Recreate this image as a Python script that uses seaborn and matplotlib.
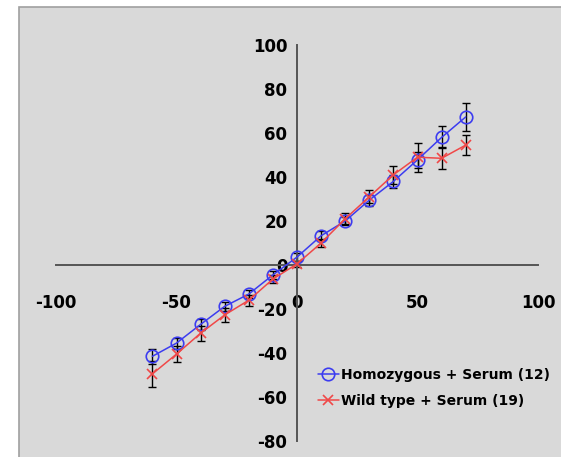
import pandas as pd
import seaborn as sns
import matplotlib.pyplot as plt
from matplotlib.patches import Rectangle

# Data
voltage = [-60, -50, -40, -30, -20, -10, 0, 10, 20, 30, 40, 50, 60, 70]
homo_mean = [-41.5, -35.5, -27, -18.8, -13.2, -4.5, 3.6, 13.3, 20, 29.5, 38, 47.8, 58, 67.3]
homo_err = [3.5, 2.5, 2.5, 2, 2, 2, 2, 2, 2, 2.5, 3, 3.5, 5, 6.5]
wild_mean = [-49.5, -40.5, -31, -22.7, -16, -6.4, 0.5, 10, 21, 31, 41, 49, 48.5, 54.5]
wild_err = [6, 3.5, 3.5, 3, 2.5, 2, 1.5, 2, 2.5, 3, 4, 6.5, 5, 4.5]
homo_label = 'Homozygous + Serum (12)'
wild_label = 'Wild type + Serum (19)'

df_homo = pd.DataFrame({'x': voltage, 'y': homo_mean})
df_wild = pd.DataFrame({'x': voltage, 'y': wild_mean})

blue = '#3c3cf0'
red = '#f04848'

sns.set_style('white')
plt.rcParams['font.family'] = ['DejaVu Sans']
plt.rcParams['font.weight'] = 'bold'
plt.rcParams['axes.unicode_minus'] = False
plt.rcParams['text.color'] = 'black'
plt.rcParams['xtick.labelcolor'] = 'black'
plt.rcParams['ytick.labelcolor'] = 'black'

fig = plt.figure(figsize=(5.61, 4.57), dpi=100)
fig.patch.set_facecolor('white')
# grey panel behind the chart
fig.patches.append(Rectangle((19 / 561, -0.01), 1.0, (457 - 7) / 457 + 0.01,
                             transform=fig.transFigure, facecolor='#d9d9d9',
                             edgecolor='#a0a0a0', linewidth=1.2, zorder=-10))

ax = fig.add_axes([56 / 561, 16 / 457, 482 / 561, 396 / 457])
ax.set_facecolor('none')

# error bars first, so markers sit on top
ax.errorbar(voltage, homo_mean, yerr=homo_err, fmt='none', ecolor='black',
            elinewidth=1, capsize=3, capthick=1, zorder=2)
ax.errorbar(voltage, wild_mean, yerr=wild_err, fmt='none', ecolor='black',
            elinewidth=1, capsize=3, capthick=1, zorder=2)

sns.lineplot(data=df_homo, x='x', y='y', ax=ax, color=blue, marker='o',
             markersize=9, markerfacecolor='none', markeredgecolor=blue,
             markeredgewidth=1.2, linewidth=1.1, label=homo_label, zorder=3)
sns.lineplot(data=df_wild, x='x', y='y', ax=ax, color=red, marker='x',
             markersize=7, markeredgecolor=red, markeredgewidth=1.2,
             linewidth=1.1, label=wild_label, zorder=3)

ax.set_xlim(-100, 100)
ax.set_ylim(-80, 100)
ax.set_xticks([-100, -50, 0, 50, 100])
ax.set_yticks(list(range(-80, 101, 20)))
ax.set_xlabel('')
ax.set_ylabel('')

# axes crossing at the origin
ax.spines['left'].set_position(('data', 0))
ax.spines['bottom'].set_position(('data', 0))
ax.spines['top'].set_visible(False)
ax.spines['right'].set_visible(False)
for s in ['left', 'bottom']:
    ax.spines[s].set_color('#555555')
    ax.spines[s].set_linewidth(1.4)

ax.tick_params(axis='y', direction='out', length=5, width=1.2, color='#555555',
               pad=2, labelsize=12, labelcolor='black')
ax.tick_params(axis='x', direction='out', length=5, width=1.2, color='#555555',
               pad=16, labelsize=12, labelcolor='black')
for lab in ax.get_xticklabels() + ax.get_yticklabels():
    lab.set_fontweight('bold')

leg = ax.legend(loc='center left', bbox_to_anchor=(318 / 561, 1 - 388 / 457),
                bbox_transform=fig.transFigure, frameon=False, fontsize=10,
                handlelength=1.5, handletextpad=0.15, labelspacing=0.85,
                borderaxespad=0, borderpad=0)
for t in leg.get_texts():
    t.set_color('black')

plt.savefig('out.png', dpi=100)
